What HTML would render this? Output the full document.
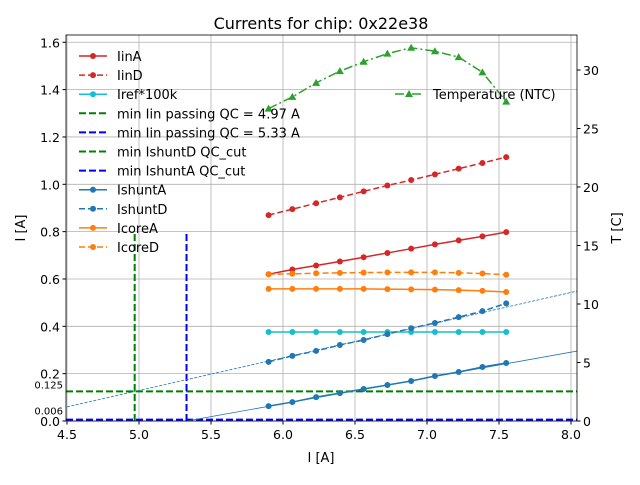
<!DOCTYPE html>
<html><head><meta charset="utf-8"><style>
body{margin:0;background:#fff}
svg text{font-family:"DejaVu Sans","Liberation Sans",sans-serif}
</style></head><body>
<svg id="c" width="640" height="480"></svg>
<script>
const xs=[5.9,6.065,6.23,6.395,6.56,6.725,6.89,7.055,7.22,7.385,7.55];
const iinA=[0.62,0.64,0.657,0.674,0.692,0.71,0.728,0.746,0.763,0.78,0.798];
const iinD=[0.87,0.895,0.92,0.945,0.97,0.995,1.018,1.042,1.066,1.09,1.115];
const iref=[0.376,0.376,0.376,0.376,0.376,0.376,0.376,0.376,0.376,0.376,0.376];
const ishuntA=[0.063,0.08,0.101,0.118,0.135,0.152,0.169,0.19,0.207,0.228,0.245];
const ishuntD=[0.25,0.275,0.296,0.321,0.342,0.367,0.392,0.414,0.439,0.464,0.497];
const icoreA=[0.558,0.558,0.558,0.558,0.558,0.557,0.556,0.555,0.553,0.55,0.545];
const icoreD=[0.62,0.622,0.624,0.626,0.627,0.628,0.628,0.628,0.626,0.623,0.618];
const temp=[26.7,27.7,28.9,29.9,30.7,31.4,31.9,31.6,31.1,29.8,27.3];
const xTicks=[4.5,5.0,5.5,6.0,6.5,7.0,7.5,8.0];
const yTicks=[0,0.2,0.4,0.6,0.8,1.0,1.2,1.4,1.6];
const tTicks=[0,5,10,15,20,25,30];
const fitA=[0.109,-0.581];   // slope, intercept
const fitD=[0.138,-0.561];
const L=66,R=577,T=35,B=421;
const X=v=>L+1+(v-4.5)*144, Y=v=>B-v*236.7, YT=v=>B-v*11.7;
const s=document.getElementById('c');const NS='http://www.w3.org/2000/svg';
function el(t,a,p){const e=document.createElementNS(NS,t);for(const k in a)e.setAttribute(k,a[k]);(p||s).appendChild(e);return e;}
function tx(str,a){const e=el('text',a);e.textContent=str;return e;}
let g;
for(const v of xTicks){g=el('line',{x1:X(v),x2:X(v),y1:T,y2:B,stroke:'#b0b0b0','stroke-width':0.8});
 el('line',{x1:X(v),x2:X(v),y1:B,y2:B+3.5,stroke:'#000'});
 g=tx(v.toFixed(1),{x:X(v),y:B+18,'font-size':12.5,'text-anchor':'middle'});}
for(const v of yTicks){g=el('line',{x1:L,x2:R,y1:Y(v),y2:Y(v),stroke:'#b0b0b0','stroke-width':0.8});
 el('line',{x1:L-3.5,x2:L,y1:Y(v),y2:Y(v),stroke:'#000'});
 g=tx(v.toFixed(1),{x:L-6,y:Y(v)+5,'font-size':12.5,'text-anchor':'end'});}
for(const v of tTicks){el('line',{x1:R,x2:R+3.5,y1:YT(v),y2:YT(v),stroke:'#000'});
 g=tx(String(v),{x:R+6,y:YT(v)+5,'font-size':12.5});}
function ln(x1,y1,x2,y2,c,dash,w,name){g=el('line',{x1,y1,x2,y2,stroke:c,'stroke-width':w,'stroke-dasharray':dash||'none'});}
ln(L,Y(0.125),R,Y(0.125),'green','7 3',2,'ishuntd-qc-line');
ln(L,Y(0.006),R,Y(0.006),'blue','7 3',2,'ishunta-qc-line');
ln(X(4.97),B,X(4.97),Y(0.8),'green','7 3',2,'min-iin-green');
ln(X(5.33),B,X(5.33),Y(0.8),'blue','7 3',2,'min-iin-blue');
g=tx('0.125',{x:63,y:Y(0.125)-3,'font-size':10,'text-anchor':'end'});
g=tx('0.006',{x:63,y:Y(0.006)-5,'font-size':10,'text-anchor':'end'});
const cp=el('clipPath',{id:'cl'});el('rect',{x:L,y:T,width:R-L,height:B-T},cp);
function fit(f,dash,name){const x0=4.5,x1=8.05;g=el('line',{x1:X(x0),y1:Y(f[0]*x0+f[1]),x2:X(x1),y2:Y(f[0]*x1+f[1]),stroke:'#1f77b4','stroke-width':0.8,'stroke-dasharray':dash,'clip-path':'url(#cl)'});}
fit(fitA,'none','ishunta-fit');fit(fitD,'3 1.5','ishuntd-fit');
function series(ys,c,dash,name,yf,mk){const pts=xs.map((x,i)=>X(x)+','+yf(ys[i])).join(' ');
 g=el('polyline',{points:pts,fill:'none',stroke:c,'stroke-width':1.5,'stroke-dasharray':dash});
 xs.forEach((x,i)=>{const px=X(x),py=yf(ys[i]);
  if(mk==='t')g=el('polygon',{points:`${px},${py-4} ${px-4},${py+3} ${px+4},${py+3}`,fill:c});
  else g=el('circle',{cx:px,cy:py,r:3,fill:c});
  });}
series(iinA,'#d62728','none','iina',Y);
series(iinD,'#d62728','6 3','iind',Y);
series(iref,'#17becf','none','iref',Y);
series(ishuntA,'#1f77b4','none','ishunta',Y);
series(ishuntD,'#1f77b4','6 3','ishuntd',Y);
series(icoreA,'#ff7f0e','none','icorea',Y);
series(icoreD,'#ff7f0e','6 3','icored',Y);
series(temp,'#2ca02c','9 3 2 3','temperature',YT,'t');
g=el('rect',{x:L,y:T,width:R-L,height:B-T,fill:'none',stroke:'#000','stroke-width':0.8});
const leg=[['IinA','#d62728','none',1,1.5],['IinD','#d62728','6 3',1,1.5],['Iref*100k','#17becf','none',1,1.5],['min Iin passing QC = 4.97 A','green','7 3',0,2],['min Iin passing QC = 5.33 A','blue','7 3',0,2],['min IshuntD QC_cut','green','7 3',0,2],['min IshuntA QC_cut','blue','7 3',0,2],['IshuntA','#1f77b4','none',1,1.5],['IshuntD','#1f77b4','6 3',1,1.5],['IcoreA','#ff7f0e','none',1,1.5],['IcoreD','#ff7f0e','6 3',1,1.5]];
leg.forEach((l,i)=>{const y=56+i*19.1;
 el('line',{x1:79,x2:107,y1:y,y2:y,stroke:l[1],'stroke-width':l[4],'stroke-dasharray':l[2]});
 if(l[3])el('circle',{cx:93,cy:y,r:3,fill:l[1]});
 g=tx(l[0],{x:117,y:y+5,'font-size':13});});
el('line',{x1:395,x2:423,y1:94,y2:94,stroke:'#2ca02c','stroke-width':1.5,'stroke-dasharray':'9 3 2 3'});
el('polygon',{points:'409,90 405,97 413,97',fill:'#2ca02c'});
g=tx('Temperature (NTC)',{x:433,y:99,'font-size':13});
g=tx('Currents for chip: 0x22e38',{x:321,y:29,'font-size':16,'text-anchor':'middle'});
g=tx('I [A]',{x:321,y:462,'font-size':13,'text-anchor':'middle'});
g=tx('I [A]',{x:25,y:228,'font-size':13,'text-anchor':'middle',transform:'rotate(-90 25 228)'});
g=tx('T [C]',{x:621,y:228,'font-size':13,'text-anchor':'middle',transform:'rotate(-90 621 228)'});
</script>
</body></html>
